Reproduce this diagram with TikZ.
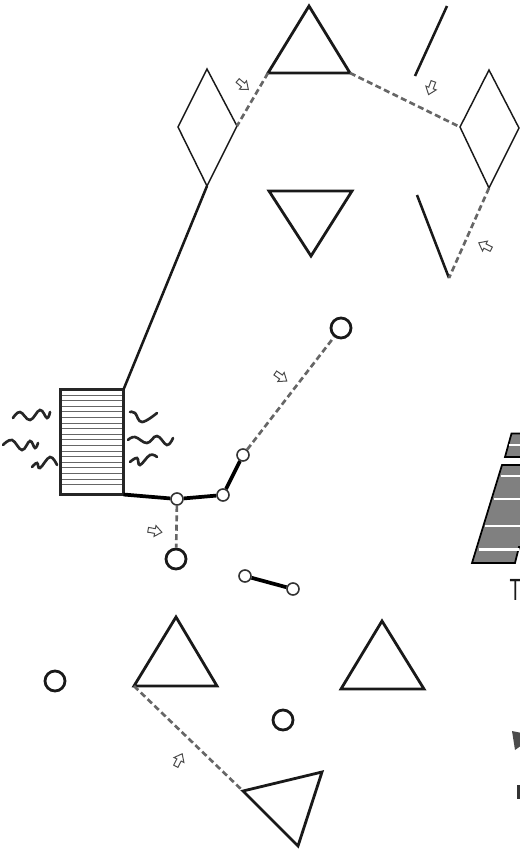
\documentclass[tikz,border=0pt]{standalone}
\usepackage{fontspec}
\setmainfont{Liberation Sans}
\usetikzlibrary{calc}
\tikzset{
 x=0.75pt,y=-0.75pt,
 tri line/.style={draw=black!90,line width=2.1pt,line join=miter},
 thin line/.style={draw=black!90,line width=1.1pt},
 thick link/.style={draw=black,line width=2.8pt},
 solid link/.style={draw=black!90,line width=1.9pt},
 dash link/.style={draw=black!60,line width=2pt,dash pattern=on 4.5pt off 2.6pt},
 bigdot/.style={circle,draw=black!90,line width=2.1pt,fill=white,minimum size=15pt,inner sep=0pt},
 smalldot/.style={circle,draw=black!80,line width=1.2pt,fill=white,minimum size=9pt,inner sep=0pt},
 wave/.style={draw=black!85,line width=2pt,line cap=round,smooth,tension=0.7},
 hatchline/.style={draw=black!60,line width=0.65pt},
 stripeblock/.style={draw=black,line width=1.3pt,fill=black!50},
 stripe/.style={draw=white,line width=2pt},
 hollow/.pic={\draw[black!70,line width=0.75pt,fill=white,line join=miter]
   (-7,-2.4)--(0,-2.4)--(0,-5.5)--(7,0)--(0,5.5)--(0,2.4)--(-7,2.4)--cycle;},
}
\begin{document}
\begin{tikzpicture}
\useasboundingbox (0,0) rectangle (520,851);
\begin{scope}
\clip (0,0) rectangle (520,851);
% cut-off block at right
\draw[stripeblock] (511.5,433.5)--(530,433.5)--(530,457)--(505,457)--cycle;
\draw[stripe] (509,445)--(530,445);
\draw[stripeblock] (502,465)--(530,465)--(530,547)--(519,547)--(515,563)--(472,563)--cycle;
\draw[stripe] (500.5,476)--(530,476);
\draw[stripe] (494,499)--(530,499);
\draw[stripe] (485,526)--(530,526);
\draw[stripe] (478.5,549.5)--(519,549.5);
\fill[black!70] (512,731)--(522,733)--(522,745)--(515,750)--cycle;
\fill[black!80] (517,785) rectangle (522,799);
\end{scope}
\node[anchor=base,inner sep=0pt,outer sep=0pt,xscale=0.62,font=\fontsize{23pt}{25pt}\selectfont,black!90] (tee) at (515.5,600) {T};
% top triangles and diamonds
\coordinate (ta) at (309,6); \coordinate (tl) at (268,73); \coordinate (tr) at (350,73);
\draw[tri line] (ta)--(tr)--(tl)--cycle;
\coordinate (ia) at (311,256); \coordinate (il) at (269,191); \coordinate (ir) at (352,191);
\draw[tri line] (ia)--(ir)--(il)--cycle;
\coordinate (dlt) at (207,69); \coordinate (dll) at (178,127); \coordinate (dlb) at (207,186); \coordinate (dlr) at (237,126);
\draw[thin line] (dlt)--(dlr)--(dlb)--(dll)--cycle;
\coordinate (drt) at (489,70); \coordinate (drl) at (460,127); \coordinate (drb) at (489,188); \coordinate (drr) at (519,128);
\draw[thin line] (drt)--(drr)--(drb)--(drl)--cycle;
\coordinate (ua) at (447,6); \coordinate (ub) at (415,76);
\draw[solid link] (ua)--(ub);
\coordinate (va) at (417,195); \coordinate (vb) at (449,278);
\draw[solid link] (va)--(vb);
\draw[dash link] (tl)--(dlr);
\draw[dash link] (tr)--(drl);
\draw[dash link] (drb)--(vb);
% block
\foreach \yy in {395,400.6,...,490}{\draw[hatchline] (60,\yy)--(123,\yy);}
\node[draw=black!85,line width=2pt,minimum width=47.25pt,minimum height=78.75pt,inner sep=0pt,outer sep=0pt,anchor=north west] (block) at (60.5,389.5) {};
\draw[solid link] (dlb)--(block.north east);
% waves
\draw[wave] plot coordinates {(13,418)(20,412)(30,420)(40,410)(47,418)(50,412)};
\draw[wave] plot coordinates {(3,445)(12,440)(22,450)(30,441)(35,448)(38,443)};
\draw[wave] plot coordinates {(32,467)(37,463)(40,468)(50,457)(57,465)};
\draw[wave] plot coordinates {(130,412)(135,413)(142,422)(157,413)};
\draw[wave] plot coordinates {(128,440)(135,437)(147,443)(157,436)(167,445)(173,438)};
\draw[wave] plot coordinates {(130,462)(137,458)(140,465)(150,455)(157,457)};
% dots and links
\node[bigdot] (c1) at (341,328) {};
\node[smalldot] (s1) at (243,455) {};
\node[smalldot] (s2) at (223,495) {};
\node[smalldot] (s3) at (177,499) {};
\node[bigdot] (c2) at (176,559) {};
\node[smalldot] (s4) at (245,576) {};
\node[smalldot] (s5) at (293,589) {};
\node[bigdot] (c3) at (55,681) {};
\node[bigdot] (c4) at (283,720) {};
\draw[dash link] (s1)--(c1);
\draw[dash link] (s3)--(c2);
\draw[thick link] (block.south east)--(s3);
\draw[thick link] (s3)--(s2);
\draw[thick link] (s2)--(s1);
\draw[thick link] (s4)--(s5);
% bottom triangles
\coordinate (pa) at (176,617); \coordinate (pl) at (134,686); \coordinate (pr) at (217,686);
\draw[tri line] (pa)--(pr)--(pl)--cycle;
\coordinate (qa) at (382,621); \coordinate (ql) at (341,689); \coordinate (qr) at (424,689);
\draw[tri line] (qa)--(qr)--(ql)--cycle;
\coordinate (ra) at (243,791); \coordinate (rb) at (322,772); \coordinate (rc) at (298,846);
\draw[tri line] (ra)--(rb)--(rc)--cycle;
\draw[dash link] (pl)--(ra);
% open arrows
\pic[rotate=-40] at (243,85) {hollow};
\pic[rotate=-110] at (431,88) {hollow};
\pic[rotate=153] at (485,246) {hollow};
\pic[rotate=-35] at (281,377) {hollow};
\pic[rotate=-10] at (155,531) {hollow};
\pic[rotate=63] at (179,760) {hollow};
\end{tikzpicture}
\end{document}
